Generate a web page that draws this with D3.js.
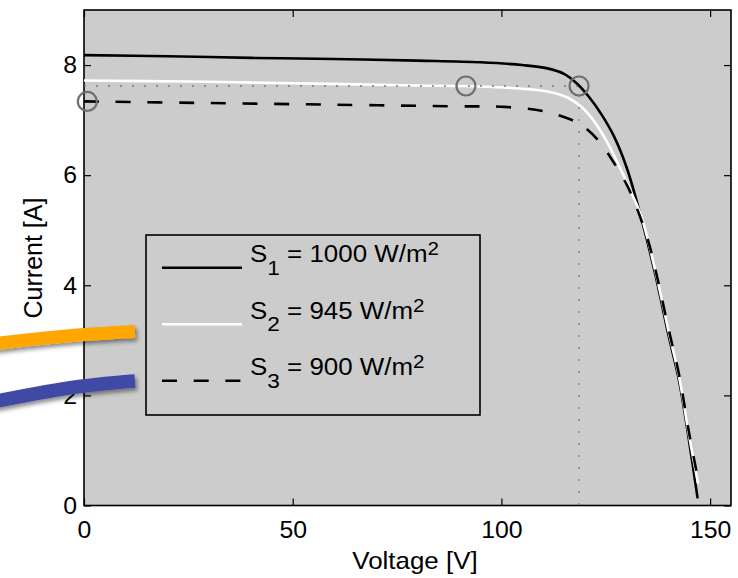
<!DOCTYPE html>
<html>
<head>
<meta charset="utf-8">
<script src="https://cdn.jsdelivr.net/npm/d3@7"></script>
<style>
  body { margin: 0; background: #fff; }
  svg { display: block; }
  text { font-family: "Liberation Sans", Arial, Helvetica, sans-serif; fill: #000; }
</style>
</head>
<body>
<svg id="chart" width="738" height="578"></svg>
<script>

// ---- data ----
var xTicks = [0, 50, 100, 150];
var yTicks = [0, 2, 4, 6, 8];

// S1 = 1000 W/m2
var voltage1 = [0, 20, 40, 60, 80, 95, 105, 111, 115, 118, 121, 124, 127, 130, 133.4, 137, 140, 142.6, 145, 147];
var current1 = [8.18, 8.16, 8.13, 8.11, 8.08, 8.05, 8.00, 7.94, 7.84, 7.67, 7.42, 7.10, 6.70, 6.14, 5.25, 4.15, 3.10, 2.25, 1.15, 0.13];

// S2 = 945 W/m2
var voltage2 = [0, 25, 50, 80, 95, 105, 111, 115.8, 119, 122.2, 125.4, 128.6, 131, 133.4, 137, 140, 142.6, 145, 147.1];
var current2 = [7.72, 7.70, 7.67, 7.63, 7.61, 7.57, 7.52, 7.41, 7.25, 6.98, 6.59, 6.10, 5.70, 5.28, 4.22, 3.18, 2.32, 1.25, 0.40];

// S3 = 900 W/m2
var voltage3 = [0, 30, 60, 90, 100.7, 110.2, 116.6, 119, 123, 127, 130.2, 132.6, 135, 137, 140, 142.6, 145, 147.3];
var current3 = [7.34, 7.31, 7.28, 7.25, 7.24, 7.16, 7.01, 6.92, 6.65, 6.22, 5.80, 5.37, 4.85, 4.25, 3.22, 2.36, 1.30, 0.40];

var legendIndex = ["1", "2", "3"];
var legendValue = ["1000", "945", "900"];

// circled operating points and the dotted guide
var markerV = [0.8, 91.5, 118.6];
var markerI = [7.34, 7.62, 7.62];
var guideV = 118.6, guideI = 7.62;

// the two painted strokes over the left edge
var orangeV = [-24, -4, 12.2];
var orangeI = [2.92, 3.08, 3.16];
var blueV = [-24, -4, 12.2];
var blueI = [1.85, 2.13, 2.26];

// ---- layout ----
var plotL = 84, plotR = 731, plotT = 10, plotB = 505.5;
var stretch = 1.08;   // glyphs in the picture are a little wide

var svg = d3.select("#chart");

var x = d3.scaleLinear().domain([0, 155]).range([plotL, plotR]);
var y = d3.scaleLinear().domain([0, 9]).range([plotB, plotT]);

// defs: clip for the curves, shadow for the strokes
var defs = svg.append("defs");
defs.append("clipPath").attr("id", "plotclip")
  .append("rect")
    .attr("x", plotL).attr("y", plotT)
    .attr("width", plotR - plotL).attr("height", plotB - plotT);

var shadow = defs.append("filter").attr("id", "shadow")
    .attr("x", "-20%").attr("y", "-50%").attr("width", "140%").attr("height", "250%");
shadow.append("feDropShadow")
    .attr("dx", 2).attr("dy", 3).attr("stdDeviation", 2)
    .attr("flood-color", "#000").attr("flood-opacity", 0.45);

// plot background
svg.append("rect")
    .attr("x", plotL).attr("y", plotT)
    .attr("width", plotR - plotL).attr("height", plotB - plotT)
    .attr("fill", "#cccccc");

// axes with inward ticks on all four sides
var xAxis = d3.axisBottom(x).tickValues(xTicks).tickSizeInner(-7).tickSizeOuter(0).tickPadding(0);
var yAxis = d3.axisLeft(y).tickValues(yTicks).tickSizeInner(-7).tickSizeOuter(0).tickPadding(0);

var gx = svg.append("g").attr("transform", "translate(0," + plotB + ")").call(xAxis);
gx.selectAll("text")
    .attr("y", 16).attr("dy", "0.71em")
    .attr("transform", "scale(" + stretch + ",1)")
    .style("font-size", "23px");

var gy = svg.append("g").attr("transform", "translate(" + plotL + ",0)").call(yAxis);
gy.selectAll("text")
    .attr("x", -7 / stretch).attr("dy", "0.34em")
    .attr("transform", "scale(" + stretch + ",1)")
    .style("font-size", "23px");

svg.append("g").attr("transform", "translate(0," + plotT + ")")
    .call(d3.axisTop(x).tickValues(xTicks).tickSizeInner(-7).tickSizeOuter(0).tickFormat(""));
svg.append("g").attr("transform", "translate(" + plotR + ",0)")
    .call(d3.axisRight(y).tickValues(yTicks).tickSizeInner(-7).tickSizeOuter(0).tickFormat(""));

svg.selectAll(".domain").remove();
svg.selectAll(".tick line").attr("stroke", "#000").attr("stroke-width", 1.2);

// box
svg.append("rect")
    .attr("x", plotL).attr("y", plotT)
    .attr("width", plotR - plotL).attr("height", plotB - plotT)
    .attr("fill", "none").attr("stroke", "#000").attr("stroke-width", 1.6);

// axis labels
svg.append("text")
    .attr("transform", "translate(415,569) scale(" + stretch + ",1)")
    .attr("text-anchor", "middle")
    .style("font-size", "24px")
    .text("Voltage [V]");

svg.append("text")
    .attr("transform", "translate(42,258) rotate(-90)")
    .attr("text-anchor", "middle")
    .style("font-size", "25px")
    .text("Current [A]");

// ---- curves ----
var series = [
  { v: voltage1, i: current1, color: "#000", dash: null },
  { v: voltage2, i: current2, color: "#fff", dash: null },
  { v: voltage3, i: current3, color: "#000", dash: "15,16.7" }
];

var line = d3.line()
    .x(function(d) { return x(d[0]); })
    .y(function(d) { return y(d[1]); })
    .curve(d3.curveCatmullRom.alpha(0.5));

var plot = svg.append("g").attr("clip-path", "url(#plotclip)");

plot.selectAll("path.curve")
    .data(series)
  .enter().append("path")
    .attr("class", "curve")
    .attr("d", function(s) { return line(d3.zip(s.v, s.i)); })
    .attr("fill", "none")
    .attr("stroke", function(s) { return s.color; })
    .attr("stroke-width", 2.6)
    .attr("stroke-dasharray", function(s) { return s.dash; });

// dotted guide lines
var guide = d3.line().x(function(d) { return x(d[0]); }).y(function(d) { return y(d[1]); });
plot.append("path")
    .attr("d", guide([[0, guideI], [guideV, guideI], [guideV, 0]]))
    .attr("fill", "none")
    .attr("stroke", "#7a7a7a")
    .attr("stroke-width", 1.3)
    .attr("stroke-dasharray", "2,10");

// circled points
svg.selectAll("circle.marker")
    .data(d3.zip(markerV, markerI))
  .enter().append("circle")
    .attr("class", "marker")
    .attr("cx", function(d) { return x(d[0]); })
    .attr("cy", function(d) { return y(d[1]); })
    .attr("r", 9.5)
    .attr("fill", "none")
    .attr("stroke", "#6e6e6e")
    .attr("stroke-width", 2.2);

// ---- legend ----
var legend = svg.append("g");
legend.append("rect")
    .attr("x", 146).attr("y", 235).attr("width", 334).attr("height", 180)
    .attr("fill", "#cccccc").attr("stroke", "#000").attr("stroke-width", 1.6);

var rowY = function(k) { return 267.7 + k * 56.5; };

legend.selectAll("line.key")
    .data(series)
  .enter().append("line")
    .attr("class", "key")
    .attr("x1", 162).attr("x2", 242)
    .attr("y1", function(s, k) { return rowY(k); })
    .attr("y2", function(s, k) { return rowY(k); })
    .attr("stroke", function(s) { return s.color; })
    .attr("stroke-width", 2.6)
    .attr("stroke-dasharray", function(s) { return s.dash; });

var labels = legend.selectAll("text.label")
    .data(legendIndex)
  .enter().append("text")
    .attr("class", "label")
    .attr("transform", function(d, k) { return "translate(250," + (rowY(k) - 5.4) + ") scale(" + stretch + ",1)"; })
    .style("font-size", "24px");

labels.append("tspan").text("S");
labels.append("tspan").attr("dy", 12.5).style("font-size", "21px").text(function(d) { return d; });
labels.append("tspan").attr("dy", -12.5).text(function(d, k) { return " = " + legendValue[k] + " W/m"; });
labels.append("tspan").attr("dy", -7).style("font-size", "19px").text("2");

// ---- painted strokes on top ----
var strokeLine = d3.line()
    .x(function(d) { return x(d[0]); })
    .y(function(d) { return y(d[1]); })
    .curve(d3.curveNatural);

svg.append("path")
    .attr("d", strokeLine(d3.zip(orangeV, orangeI)))
    .attr("fill", "none").attr("stroke", "#ffa700").attr("stroke-width", 13)
    .attr("filter", "url(#shadow)");

svg.append("path")
    .attr("d", strokeLine(d3.zip(blueV, blueI)))
    .attr("fill", "none").attr("stroke", "#4148a5").attr("stroke-width", 13.5)
    .attr("filter", "url(#shadow)");

</script>
</body>
</html>
